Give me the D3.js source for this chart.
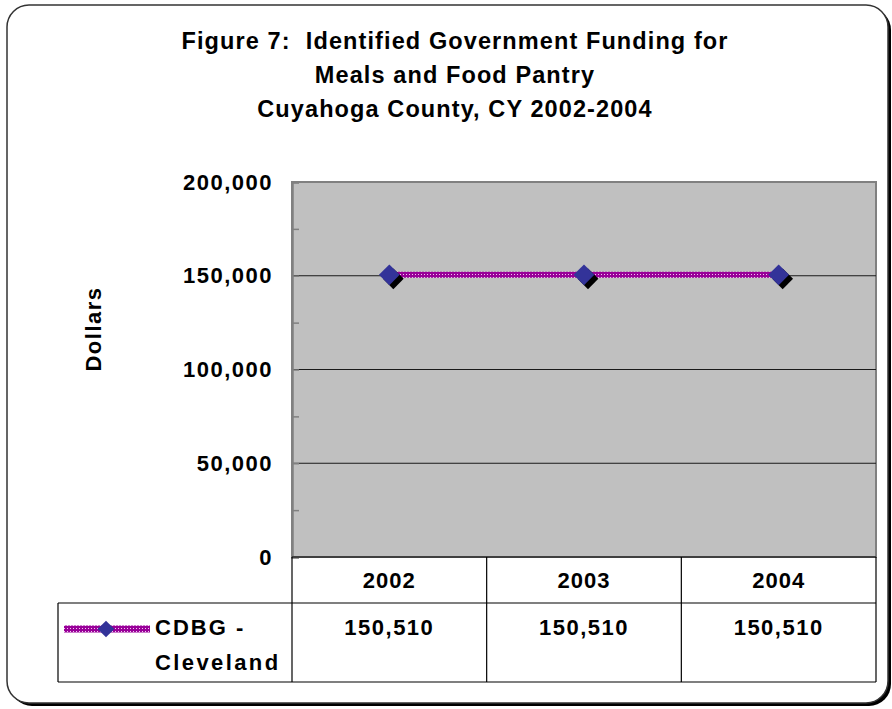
<!DOCTYPE html>
<html>
<head>
<meta charset="utf-8">
<script src="https://cdn.jsdelivr.net/npm/d3@7"></script>
<style>
  body { margin: 0; background: #fff; }
  svg text { font-family: "Liberation Sans", Arial, sans-serif; font-weight: bold; fill: #000; white-space: pre; }
</style>
</head>
<body>
<svg id="chart" width="892" height="709"></svg>
<script>
const years = ["2002", "2003", "2004"];
const cdbgValues = [150510, 150510, 150510];
const seriesLabel = ["CDBG -", "Cleveland"];
const yTicks = [0, 50000, 100000, 150000, 200000];
const minorTicks = [0, 25000, 50000, 75000, 100000, 125000, 150000, 175000, 200000];
const titleLines = [
  "Figure 7:  Identified Government Funding for",
  "Meals and Food Pantry",
  "Cuyahoga County, CY 2002-2004",
];

const svg = d3.select("#chart");
const plot = { left: 292, right: 876, top: 182, bottom: 557 };
const tableRows = { header: 603, value: 682 };
const fmt = d3.format(",");

// pattern for the dotted purple line
const defs = svg.append("defs");
const pat = defs.append("pattern")
  .attr("id", "purpleDots")
  .attr("patternUnits", "userSpaceOnUse")
  .attr("width", 3).attr("height", 3);
pat.append("rect").attr("width", 3).attr("height", 3).attr("fill", "#990099");
pat.append("rect").attr("x", 1).attr("y", 1).attr("width", 1).attr("height", 1).attr("fill", "#f2c8f2");

// outer frame with shadow
svg.append("rect")
  .attr("x", 10).attr("y", 8).attr("width", 881).attr("height", 698)
  .attr("rx", 22).attr("fill", "#000");
svg.append("rect")
  .attr("x", 7).attr("y", 5).attr("width", 881).attr("height", 698)
  .attr("rx", 22).attr("fill", "#fff").attr("stroke", "#333").attr("stroke-width", 1.5);

// title
svg.append("g").selectAll("text")
  .data(titleLines)
  .join("text")
  .attr("x", 455)
  .attr("y", (d, i) => 49 + i * 34)
  .attr("text-anchor", "middle")
  .style("font-size", "23.5px")
  .style("letter-spacing", "1.1px")
  .text((d) => d);

const x = d3.scaleBand().domain(years).range([plot.left, plot.right]).padding(0);
const y = d3.scaleLinear().domain([0, 200000]).range([plot.bottom, plot.top]);

// plot area
svg.append("rect")
  .attr("x", plot.left).attr("y", plot.top)
  .attr("width", plot.right - plot.left).attr("height", plot.bottom - plot.top)
  .attr("fill", "#c0c0c0").attr("stroke", "#808080").attr("stroke-width", 2);

// gridlines
svg.append("g").selectAll("line")
  .data(yTicks.filter((d) => d > 0 && d < 200000))
  .join("line")
  .attr("x1", plot.left).attr("x2", plot.right)
  .attr("y1", (d) => y(d)).attr("y2", (d) => y(d))
  .attr("stroke", "#1a1a1a").attr("stroke-width", 1.2);

// minor ticks inside the axis
const minorAxis = svg.append("g")
  .attr("transform", `translate(${plot.left},0)`)
  .call(d3.axisRight(y).tickValues(minorTicks).tickSize(7).tickFormat(""));
minorAxis.select(".domain").attr("stroke", "#808080").attr("stroke-width", 2.5);
minorAxis.selectAll(".tick line").attr("stroke", "#808080").attr("stroke-width", 1.5);

// y axis labels
const yAxis = svg.append("g")
  .attr("transform", `translate(${plot.left},0)`)
  .call(d3.axisLeft(y).tickValues(yTicks).tickSize(0).tickPadding(19).tickFormat(fmt));
yAxis.select(".domain").remove();
yAxis.selectAll("text")
  .style("font-size", "22px")
  .style("letter-spacing", "1.5px")
  .attr("fill", "#000");

svg.append("text")
  .attr("transform", "translate(101,329) rotate(-90)")
  .attr("text-anchor", "middle")
  .style("font-size", "22px")
  .style("letter-spacing", "1.5px")
  .text("Dollars");

// data table
const table = svg.append("g").attr("fill", "none").attr("stroke", "#000").attr("stroke-width", 1.2);
table.append("line").attr("x1", plot.left).attr("x2", plot.right).attr("y1", plot.bottom).attr("y2", plot.bottom);
table.append("line").attr("x1", 58).attr("x2", plot.right).attr("y1", tableRows.header).attr("y2", tableRows.header);
table.append("line").attr("x1", 58).attr("x2", plot.right).attr("y1", tableRows.value).attr("y2", tableRows.value);
table.append("line").attr("x1", 58).attr("x2", 58).attr("y1", tableRows.header).attr("y2", tableRows.value);
table.selectAll("line.col")
  .data(years.map((d) => x(d)).concat([plot.right]))
  .join("line")
  .attr("class", "col")
  .attr("x1", (d) => d).attr("x2", (d) => d)
  .attr("y1", plot.bottom).attr("y2", tableRows.value);

svg.append("g").selectAll("text")
  .data(years)
  .join("text")
  .attr("x", (d) => x(d) + x.bandwidth() / 2)
  .attr("y", 588)
  .attr("text-anchor", "middle")
  .style("font-size", "22px")
  .style("letter-spacing", "1px")
  .text((d) => d);

svg.append("g").selectAll("text")
  .data(cdbgValues)
  .join("text")
  .attr("x", (d, i) => x(years[i]) + x.bandwidth() / 2)
  .attr("y", 635)
  .attr("text-anchor", "middle")
  .style("font-size", "22px")
  .style("letter-spacing", "1.5px")
  .text((d) => fmt(d));

svg.append("g").selectAll("text")
  .data(seriesLabel)
  .join("text")
  .attr("x", 155)
  .attr("y", (d, i) => 635 + i * 35)
  .style("font-size", "22px")
  .style("letter-spacing", (d, i) => (i === 0 ? "2px" : "2.4px"))
  .text((d) => d);

// legend key
const diamond = d3.symbol().type(d3.symbolSquare);
svg.append("line")
  .attr("x1", 64).attr("x2", 150).attr("y1", 629).attr("y2", 629)
  .attr("stroke", "url(#purpleDots)").attr("stroke-width", 7);
svg.append("path")
  .attr("d", diamond.size(140)())
  .attr("transform", "translate(106,629) rotate(45)")
  .attr("fill", "#333399");

// series line
const pts = cdbgValues.map((v, i) => [x(years[i]) + x.bandwidth() / 2, y(v)]);
svg.append("path")
  .attr("d", d3.line()(pts))
  .attr("fill", "none")
  .attr("stroke", "url(#purpleDots)")
  .attr("stroke-width", 6);

const markers = svg.append("g").selectAll("g")
  .data(pts)
  .join("g")
  .attr("transform", (d) => `translate(${d[0]},${d[1]})`);
markers.append("path")
  .attr("d", diamond.size(215)())
  .attr("transform", "translate(4,4) rotate(45)")
  .attr("fill", "#000");
markers.append("path")
  .attr("d", diamond.size(215)())
  .attr("transform", "rotate(45)")
  .attr("fill", "#333399");
</script>
</body>
</html>
